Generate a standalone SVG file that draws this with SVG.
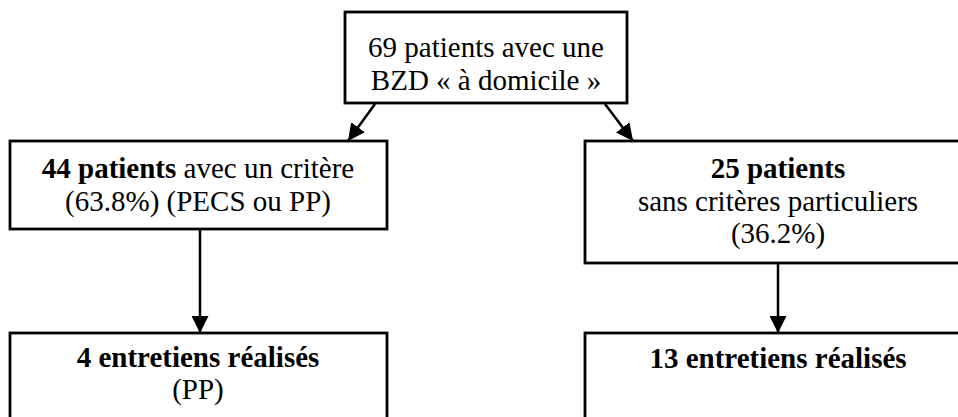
<svg xmlns="http://www.w3.org/2000/svg" width="958" height="417" viewBox="0 0 958 417">
  <style>
    .box { fill: #ffffff; stroke: #000000; stroke-width: 2.8; }
    .t { font-family: 'Liberation Serif', 'Times New Roman', serif; font-size: 29px; fill: #000000; text-anchor: middle; }
    .b { font-weight: bold; }
    .conn { stroke: #000000; stroke-width: 2.5; fill: none; marker-end: url(#arrow); }
  </style>
  <defs>
    <marker id="arrow" markerUnits="userSpaceOnUse" markerWidth="17" markerHeight="17" viewBox="0 0 17 17" refX="17" refY="8.5" orient="auto">
      <path d="M0,0 L17,8.5 L0,17 Z" fill="#000000"/>
    </marker>
  </defs>
  <rect width="958" height="417" fill="#ffffff"/>

  <g id="connectors">
    <line class="conn" x1="375" y1="104" x2="348" y2="141"/>
    <line class="conn" x1="605" y1="104" x2="633" y2="141"/>
    <line class="conn" x1="200" y1="229" x2="200" y2="333"/>
    <line class="conn" x1="778" y1="264" x2="778" y2="333"/>
  </g>

  <g id="n_total">
    <rect class="box" x="345" y="12" width="282" height="91"/>
    <text class="t" x="486" y="57">69 patients avec une</text>
    <text class="t" x="486" y="90">BZD « à domicile »</text>
  </g>

  <g id="n_critere">
    <rect class="box" x="10" y="141" width="377" height="88"/>
    <text class="t" x="198" y="178"><tspan class="b">44 patients</tspan> avec un critère</text>
    <text class="t" x="198" y="211">(63.8%) (PECS ou PP)</text>
  </g>

  <g id="n_sans">
    <rect class="box" x="585" y="141" width="390" height="122"/>
    <text class="t b" x="778" y="178">25 patients</text>
    <text class="t" x="778" y="211">sans critères particuliers</text>
    <text class="t" x="778" y="243">(36.2%)</text>
  </g>

  <g id="n_entretiens_pp">
    <rect class="box" x="10" y="333" width="377" height="100"/>
    <text class="t b" x="198" y="367">4 entretiens réalisés</text>
    <text class="t" x="198" y="399">(PP)</text>
  </g>

  <g id="n_entretiens_13">
    <rect class="box" x="585" y="333" width="390" height="100"/>
    <text class="t b" x="778" y="368">13 entretiens réalisés</text>
  </g>
</svg>
